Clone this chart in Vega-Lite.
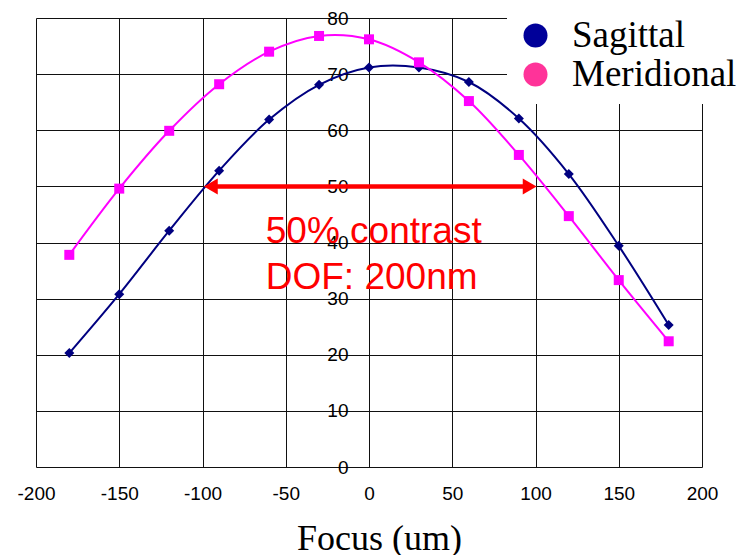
{
  "$schema": "https://vega.github.io/schema/vega-lite/v6.json",
  "width": 666,
  "height": 449,
  "autosize": {"type": "none"},
  "padding": {"left": 36, "top": 18, "right": 41, "bottom": 88},
  "background": "white",
  "config": {"view": {"stroke": null}},
  "datasets": {
    "curves": [
      {"focus": -180, "series": "Sagittal", "value": 20.3},
      {"focus": -150, "series": "Sagittal", "value": 30.8},
      {"focus": -120, "series": "Sagittal", "value": 42.1},
      {"focus": -90, "series": "Sagittal", "value": 52.8},
      {"focus": -60, "series": "Sagittal", "value": 61.9},
      {"focus": -30, "series": "Sagittal", "value": 68.1},
      {"focus": 0, "series": "Sagittal", "value": 71.2},
      {"focus": 30, "series": "Sagittal", "value": 71.2},
      {"focus": 60, "series": "Sagittal", "value": 68.6},
      {"focus": 90, "series": "Sagittal", "value": 62.1},
      {"focus": 120, "series": "Sagittal", "value": 52.2},
      {"focus": 150, "series": "Sagittal", "value": 39.4},
      {"focus": 180, "series": "Sagittal", "value": 25.3},
      {"focus": -180, "series": "Meridional", "value": 37.8},
      {"focus": -150, "series": "Meridional", "value": 49.6},
      {"focus": -120, "series": "Meridional", "value": 59.9},
      {"focus": -90, "series": "Meridional", "value": 68.2},
      {"focus": -60, "series": "Meridional", "value": 74.0},
      {"focus": -30, "series": "Meridional", "value": 76.8},
      {"focus": 0, "series": "Meridional", "value": 76.2},
      {"focus": 30, "series": "Meridional", "value": 72.1},
      {"focus": 60, "series": "Meridional", "value": 65.2},
      {"focus": 90, "series": "Meridional", "value": 55.6},
      {"focus": 120, "series": "Meridional", "value": 44.7},
      {"focus": 150, "series": "Meridional", "value": 33.3},
      {"focus": 180, "series": "Meridional", "value": 22.4}
    ],
    "arrow": [{"start": -95, "end": 96, "level": 50}],
    "heads": [
      {"focus": -95, "value": 50, "dir": "left"},
      {"focus": 96.5, "value": 50, "dir": "right"}
    ],
    "note": [{"focus": -62, "value": 40, "label": "50% contrast\nDOF: 200nm"}]
  },
  "layer": [
    {
      "data": {"name": "curves"},
      "mark": {"type": "line", "interpolate": "catmull-rom", "strokeWidth": 2},
      "encoding": {
        "x": {
          "field": "focus", "type": "quantitative",
          "scale": {"domain": [-200, 200], "nice": false, "zero": false},
          "axis": {
            "values": [-200, -150, -100, -50, 0, 50, 100, 150, 200],
            "labelExpr": "'' + datum.value",
            "grid": true, "gridColor": "#111", "gridOpacity": 1, "gridWidth": 1,
            "domain": false, "ticks": false,
            "labelFont": "Liberation Sans", "labelFontSize": 19, "labelColor": "black",
            "labelPadding": 17, "labelFlush": false, "labelOverlap": false,
            "title": "Focus (um)", "titleFont": "Liberation Serif", "titleFontSize": 36,
            "titleFontWeight": "normal", "titleColor": "black",
            "titleX": 343, "titleY": 82, "titleAlign": "center", "titleBaseline": "alphabetic"
          }
        },
        "y": {
          "field": "value", "type": "quantitative",
          "scale": {"domain": [0, 80], "nice": false},
          "axis": {
            "values": [0, 10, 20, 30, 40, 50, 60, 70, 80],
            "offset": -333,
            "grid": true, "gridColor": "#111", "gridOpacity": 1, "gridWidth": 1,
            "domain": false, "ticks": false,
            "labelFont": "Liberation Sans", "labelFontSize": 19, "labelColor": "black",
            "labelPadding": 21, "labelFlush": false, "labelOverlap": false,
            "title": null
          }
        },
        "color": {
          "field": "series", "type": "nominal",
          "scale": {"domain": ["Sagittal", "Meridional"], "range": ["#000080", "#FF00FF"]},
          "legend": null
        },
        "detail": {"field": "series"}
      }
    },
    {
      "data": {"name": "curves"},
      "mark": {"type": "point", "filled": true, "opacity": 1, "size": 100},
      "encoding": {
        "x": {"field": "focus", "type": "quantitative"},
        "y": {"field": "value", "type": "quantitative"},
        "color": {
          "field": "series", "type": "nominal",
          "scale": {"domain": ["Sagittal", "Meridional"], "range": ["#000080", "#FF00FF"]},
          "legend": null
        },
        "shape": {
          "field": "series", "type": "nominal",
          "scale": {"domain": ["Sagittal", "Meridional"], "range": ["diamond", "square"]},
          "legend": null
        }
      }
    },
    {
      "data": {"name": "arrow"},
      "mark": {"type": "rule", "color": "#FF0000", "strokeWidth": 4.5},
      "encoding": {
        "x": {"field": "start", "type": "quantitative"},
        "x2": {"field": "end"},
        "y": {"field": "level", "type": "quantitative"}
      }
    },
    {
      "data": {"name": "heads"},
      "mark": {"type": "point", "filled": true, "opacity": 1, "size": 256, "color": "#FF0000"},
      "encoding": {
        "x": {"field": "focus", "type": "quantitative"},
        "y": {"field": "value", "type": "quantitative"},
        "shape": {
          "field": "dir", "type": "nominal",
          "scale": {"domain": ["left", "right"], "range": ["triangle-left", "triangle-right"]},
          "legend": null
        }
      }
    },
    {
      "data": {"name": "note"},
      "mark": {"type": "text", "color": "#FF0000", "font": "Liberation Sans", "fontSize": 37,
               "align": "left", "baseline": "alphabetic", "lineBreak": "\n", "lineHeight": 46},
      "encoding": {
        "x": {"field": "focus", "type": "quantitative"},
        "y": {"field": "value", "type": "quantitative"},
        "text": {"field": "label"}
      }
    },
    {
      "data": {"name": "curves"},
      "mark": {"type": "point", "filled": true, "opacity": 0},
      "encoding": {
        "x": {"field": "focus", "type": "quantitative"},
        "y": {"field": "value", "type": "quantitative"},
        "fill": {
          "field": "series", "type": "nominal",
          "scale": {"domain": ["Sagittal", "Meridional"], "range": ["#000099", "#FF3399"]},
          "legend": {
            "orient": "none", "legendX": 471, "legendY": -11, "zindex": 5,
            "title": null, "padding": 10, "fillColor": "white", "strokeColor": "white",
            "symbolType": "circle", "symbolSize": 576, "symbolOpacity": 1, "symbolStrokeWidth": 0,
            "labelFont": "Liberation Serif", "labelFontSize": 37, "labelColor": "black",
            "labelOffset": 18, "rowPadding": 1, "labelLimit": 300
          }
        }
      }
    }
  ],
  "resolve": {"scale": {"color": "independent", "fill": "independent", "shape": "independent"}}
}
